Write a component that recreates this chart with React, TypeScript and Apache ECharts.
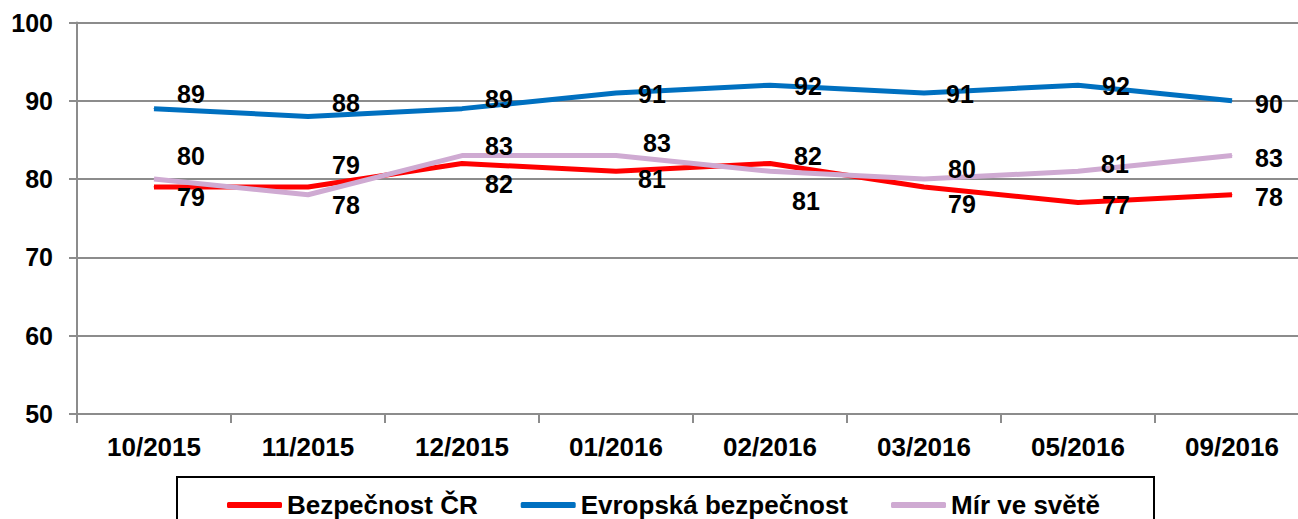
import React, { useEffect, useRef } from "react";
import * as echarts from "echarts";

const categories = ["10/2015", "11/2015", "12/2015", "01/2016", "02/2016", "03/2016", "05/2016", "09/2016"];
const seriesNames = ["Bezpečnost ČR", "Evropská bezpečnost", "Mír ve světě"];
const bezpecnostCR = [79, 79, 82, 81, 82, 79, 77, 78];
const evropska = [89, 88, 89, 91, 92, 91, 92, 90];
const mirVeSvete = [80, 78, 83, 83, 81, 80, 81, 83];
const yTicks = { min: 50, max: 100, interval: 10 };

// label offsets (pixels from the point) per series
const offsCR = [[37, 10], [38, -22], [37, 21], [36, 8], [38, -7], [38, 17], [38, 2], [37, 2]];
const offsEU = [[37, -15], [38, -13], [37, -10], [36, 1], [38, 1], [36, 1], [38, 1], [37, 3]];
const offsMir = [[37, -23], [38, 10], [37, -10], [41, -13], [36, 30], [38, -10], [37, -7], [37, 2]];

const colors = ["#FF0000", "#0070C0", "#CFAAD2"];
const FONT = "'Liberation Sans', Arial, sans-serif";

function build(values: number[], offs: number[][]) {
  return values.map((v, i) => ({ value: v, label: { offset: offs[i] } }));
}

export default function App() {
  const ref = useRef<HTMLDivElement>(null);
  useEffect(() => {
    document.body.style.margin = "0";
    document.body.style.overflow = "hidden";
    const chart = echarts.init(ref.current!, null, { renderer: "svg" });
    const mk = (name: string, data: any[], color: string, z: number) => ({
      name,
      type: "line",
      data,
      z,
      symbol: "circle",
      symbolSize: 1,
      itemStyle: { color },
      lineStyle: { color, width: 5 },
      label: {
        show: true,
        position: "inside",
        align: "center",
        verticalAlign: "middle",
        color: "#000",
        fontSize: 25,
        fontWeight: "bold",
        fontFamily: FONT,
      },
      emphasis: { disabled: true },
    });
    chart.setOption({
      animation: false,
      grid: { left: 77, right: 1, top: 22.5, bottom: 105, containLabel: false },
      xAxis: {
        type: "category",
        data: categories,
        boundaryGap: true,
        axisLine: { lineStyle: { color: "#8C8C8C", width: 2 } },
        axisTick: { show: true, length: 9, lineStyle: { color: "#8C8C8C", width: 2 } },
        axisLabel: { color: "#000", fontSize: 26, fontWeight: "bold", fontFamily: FONT, margin: 20 },
      },
      yAxis: {
        type: "value",
        min: yTicks.min,
        max: yTicks.max,
        interval: yTicks.interval,
        axisLine: { show: true, lineStyle: { color: "#8C8C8C", width: 2 } },
        axisTick: { show: true, length: 8, lineStyle: { color: "#8C8C8C", width: 2 } },
        splitLine: { lineStyle: { color: "#8C8C8C", width: 2 } },
        axisLabel: { color: "#000", fontSize: 25, fontWeight: "bold", fontFamily: FONT, margin: 24 },
      },
      legend: {
        data: seriesNames,
        left: 222,
        top: 487,
        itemWidth: 55,
        itemHeight: 6,
        itemGap: 43,
        icon: "roundRect",
        textStyle: { color: "#000", fontSize: 26, fontWeight: "bold", fontFamily: FONT, lineHeight: 26 },
      },
      graphic: [
        {
          type: "rect",
          shape: { x: 177, y: 477, width: 977, height: 80 },
          style: { fill: "none", stroke: "#000", lineWidth: 2 },
          silent: true,
        },
      ],
      series: [
        mk(seriesNames[0], build(bezpecnostCR, offsCR), colors[0], 2),
        mk(seriesNames[1], build(evropska, offsEU), colors[1], 3),
        mk(seriesNames[2], build(mirVeSvete, offsMir), colors[2], 4),
      ],
    });
    return () => chart.dispose();
  }, []);
  return (
    <div
      ref={ref}
      style={{ position: "fixed", left: 0, top: 0, width: 1310, height: 519, background: "#fff" }}
    />
  );
}
